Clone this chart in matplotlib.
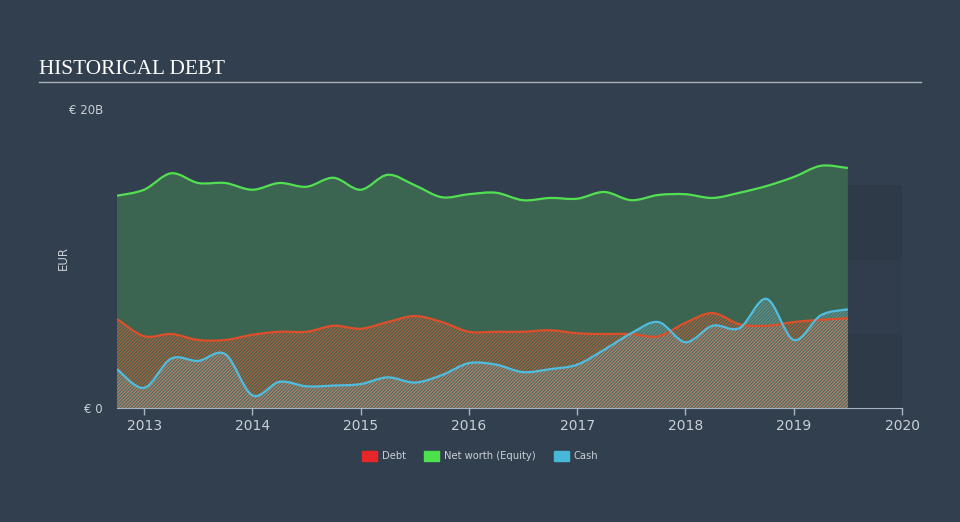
import numpy as np
import matplotlib.pyplot as plt
from matplotlib.patches import Rectangle, PathPatch
from matplotlib.path import Path

# ------------------------------------
# Data (EUR billions, quarterly)
# ------------------------------------
dates = [2012.75, 2013.0, 2013.25, 2013.5, 2013.75, 2014.0, 2014.25, 2014.5,
         2014.75, 2015.0, 2015.25, 2015.5, 2015.75, 2016.0, 2016.25, 2016.5,
         2016.75, 2017.0, 2017.25, 2017.5, 2017.75, 2018.0, 2018.25, 2018.5,
         2018.75, 2019.0, 2019.25, 2019.5]

equity = [14.2, 14.6, 15.7, 15.05, 15.05, 14.6, 15.05, 14.8,
          15.4, 14.6, 15.6, 14.9, 14.1, 14.3, 14.4, 13.9,
          14.05, 14.0, 14.45, 13.9, 14.25, 14.3, 14.05, 14.4,
          14.85, 15.45, 16.2, 16.05]

debt = [5.95, 4.8, 4.95, 4.55, 4.55, 4.9, 5.1, 5.1,
        5.5, 5.3, 5.75, 6.15, 5.75, 5.1, 5.1, 5.1,
        5.2, 5.0, 4.95, 4.95, 4.8, 5.7, 6.35, 5.6,
        5.5, 5.75, 5.9, 6.0]

cash = [2.6, 1.35, 3.3, 3.15, 3.6, 0.85, 1.75, 1.45,
        1.5, 1.6, 2.05, 1.7, 2.2, 3.0, 2.9, 2.4,
        2.6, 2.9, 3.9, 5.0, 5.75, 4.4, 5.5, 5.35,
        7.3, 4.55, 6.2, 6.6]

years = [2013, 2014, 2015, 2016, 2017, 2018, 2019, 2020]


# ------------------------------------
# Smooth path (Catmull-Rom drawn as cubic Bezier)
# ------------------------------------
def curve_verts(xs, ys):
    p = np.column_stack([xs, ys]).astype(float)
    n = len(p)
    verts = [p[0]]
    codes = [Path.MOVETO]
    for i in range(n - 1):
        p0 = p[max(i - 1, 0)]
        p1 = p[i]
        p2 = p[i + 1]
        p3 = p[min(i + 2, n - 1)]
        verts += [p1 + (p2 - p0) / 6, p2 - (p3 - p1) / 6, p2]
        codes += [Path.CURVE4] * 3
    return verts, codes


def line_path(xs, ys):
    v, c = curve_verts(xs, ys)
    return Path(v, c)


def area_path(xs, ys):
    v, c = curve_verts(xs, ys)
    v += [(xs[-1], 0), (xs[0], 0), (xs[0], ys[0])]
    c += [Path.LINETO, Path.LINETO, Path.CLOSEPOLY]
    return Path(v, c)


# ------------------------------------
# Style
# ------------------------------------
BG = "#323f4e"
TEXT = "#c9cfd6"
plt.rcParams["hatch.linewidth"] = 0.8

fig = plt.figure(figsize=(9.6, 5.22), dpi=100, facecolor=BG)
ax = fig.add_axes([117 / 960, 114 / 522, 785 / 960, 299 / 522])
ax.set_facecolor(BG)

# forecast panel on the right
x_end = dates[-1]
for y0, y1, c in [(0, 5.0, "#2e3a48"), (5.0, 9.9, "#313d4c"), (9.9, 14.9, "#2f3a49")]:
    ax.add_patch(Rectangle((x_end, y0), 2020 - x_end, y1 - y0,
                           facecolor=c, edgecolor="none", zorder=0))

# ------------------------------------
# Areas
# ------------------------------------
ax.add_patch(PathPatch(area_path(dates, equity), facecolor="#3b6550",
                       edgecolor="none", zorder=1))
ax.add_patch(PathPatch(area_path(dates, cash), facecolor="#4fb8d8",
                       alpha=0.18, edgecolor="none", zorder=2))
ax.add_patch(PathPatch(area_path(dates, debt), facecolor="none",
                       edgecolor="#b85f3e", hatch="//////////", linewidth=0, zorder=3))
ax.add_patch(PathPatch(area_path(dates, cash), facecolor="none",
                       edgecolor=(0.8, 0.8, 0.8, 0.3), hatch="//////////",
                       linewidth=0, zorder=4))

# ------------------------------------
# Lines
# ------------------------------------
ax.add_patch(PathPatch(line_path(dates, equity), facecolor="none",
                       edgecolor="#52e052", linewidth=1.6, zorder=5))
ax.add_patch(PathPatch(line_path(dates, debt), facecolor="none",
                       edgecolor="#dc4f2a", linewidth=1.6, zorder=5))
ax.add_patch(PathPatch(line_path(dates, cash), facecolor="none",
                       edgecolor="#4fbde0", linewidth=1.6, zorder=6))

# ------------------------------------
# Axes
# ------------------------------------
ax.set_xlim(dates[0], 2020)
ax.set_ylim(0, 20)
ax.set_xticks(years)
ax.set_xticklabels([str(y) for y in years], color=TEXT, fontsize=10)
ax.set_yticks([0, 20])
ax.set_yticklabels(["€ 0", "€ 20B"], color=TEXT, fontsize=8.5)
ax.tick_params(axis="x", colors="#aab4c0", labelcolor=TEXT, length=5, width=1, pad=3)
ax.tick_params(axis="y", length=0, pad=10)
for s in ["top", "right", "left"]:
    ax.spines[s].set_visible(False)
ax.spines["bottom"].set_color("#aab4c0")
ax.set_ylabel("EUR", color=TEXT, fontsize=8.5)
ax.yaxis.set_label_coords(-47 / 785, 0.5)

# ------------------------------------
# Title
# ------------------------------------
fig.text(39 / 960, 1 - 74 / 522, "HISTORICAL DEBT", family="Liberation Serif",
         fontsize=15.3, color="#ffffff", va="baseline")
fig.add_artist(plt.Line2D([39 / 960, 921 / 960], [1 - 82 / 522, 1 - 82 / 522],
                          color="#aab0b8", linewidth=1))

# ------------------------------------
# Legend
# ------------------------------------
handles = [Rectangle((0, 0), 1, 1, color="#e8262a"),
           Rectangle((0, 0), 1, 1, color="#4de04d"),
           Rectangle((0, 0), 1, 1, color="#48b8da")]
leg = fig.legend(handles, ["Debt", "Net worth (Equity)", "Cash"],
                 loc="center", bbox_to_anchor=(0.5, 1 - 456 / 522), ncol=3,
                 frameon=False, fontsize=7.2, handlelength=1.5, handleheight=1.1,
                 columnspacing=1.8, handletextpad=0.5)
for t in leg.get_texts():
    t.set_color(TEXT)

fig.savefig("out.png", dpi=100, facecolor=BG)
